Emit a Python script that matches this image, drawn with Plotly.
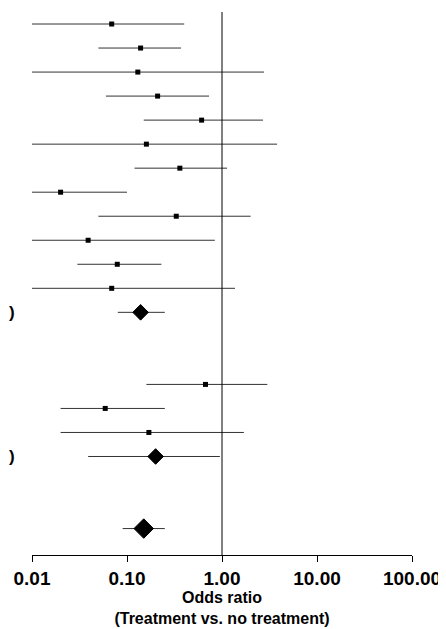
import plotly.graph_objects as go

# Study rows (slot = vertical position, top to bottom)
study_slot = [0, 1, 2, 3, 4, 5, 6, 7, 8, 9, 10, 11, 15, 16, 17]
study_or = [0.069, 0.139, 0.13, 0.21, 0.61, 0.16, 0.36, 0.02, 0.33, 0.039, 0.079, 0.069, 0.67, 0.059, 0.17]
study_lo = [0.01, 0.05, 0.01, 0.06, 0.15, 0.01, 0.12, 0.01, 0.05, 0.01, 0.03, 0.01, 0.16, 0.02, 0.02]
study_hi = [0.40, 0.37, 2.77, 0.73, 2.7, 3.8, 1.13, 0.10, 2.0, 0.84, 0.23, 1.37, 3.0, 0.25, 1.7]

# Pooled estimates
pool_slot = [12, 18, 21]
pool_or = [0.139, 0.20, 0.15]
pool_lo = [0.08, 0.039, 0.09]
pool_hi = [0.25, 0.95, 0.25]
pool_size = [12, 12, 15]

tick_vals = [0.01, 0.1, 1, 10, 100]
tick_text = ["0.01", "0.10", "1.00", "10.00", "100.00"]

line_col = "#333333"
fig = go.Figure()

fig.add_trace(go.Scatter(
    x=study_or, y=study_slot, mode="markers",
    marker=dict(symbol="square", size=5, color="black"),
    error_x=dict(type="data", symmetric=False,
                 array=[h - o for h, o in zip(study_hi, study_or)],
                 arrayminus=[o - l for o, l in zip(study_or, study_lo)],
                 width=0, thickness=1, color=line_col),
    showlegend=False))

fig.add_trace(go.Scatter(
    x=pool_or, y=pool_slot, mode="markers",
    marker=dict(symbol="diamond", size=pool_size, color="black", opacity=1,
                line=dict(color="black", width=1)),
    error_x=dict(type="data", symmetric=False,
                 array=[h - o for h, o in zip(pool_hi, pool_or)],
                 arrayminus=[o - l for o, l in zip(pool_or, pool_lo)],
                 width=0, thickness=1, color=line_col),
    showlegend=False))

# reference line at OR = 1
fig.add_shape(type="line", x0=1, x1=1, xref="x", y0=0, y1=1, yref="paper",
              line=dict(color="black", width=1))

# ends of the row labels seen at the left edge
for s in [12, 18]:
    fig.add_annotation(x=0, xref="paper", xanchor="left", xshift=-24, y=s, yref="y",
                       text="<b>)</b>", showarrow=False, borderpad=0,
                       font=dict(size=17, color="black"))

fig.update_layout(
    width=438, height=621,
    margin=dict(l=24, r=34, t=4, b=74, autoexpand=False),
    plot_bgcolor="white", paper_bgcolor="white",
    font=dict(family="Liberation Sans, Arial", color="black"),
    xaxis=dict(type="log", range=[-2, 2], tickvals=tick_vals, ticktext=tick_text,
               ticks="outside", ticklen=6, tickcolor="black", automargin=False,
               showline=True, linecolor="black", linewidth=1, showgrid=False,
               zeroline=False, tickfont=dict(size=19, weight="bold"),
               title=dict(text="Odds ratio<br>(Treatment vs. no treatment)",
                          font=dict(size=16, weight="bold"), standoff=4)),
    yaxis=dict(range=[22.1, -0.5], showticklabels=False, showgrid=False,
               zeroline=False, showline=False),
)

fig.write_html("out.html")
